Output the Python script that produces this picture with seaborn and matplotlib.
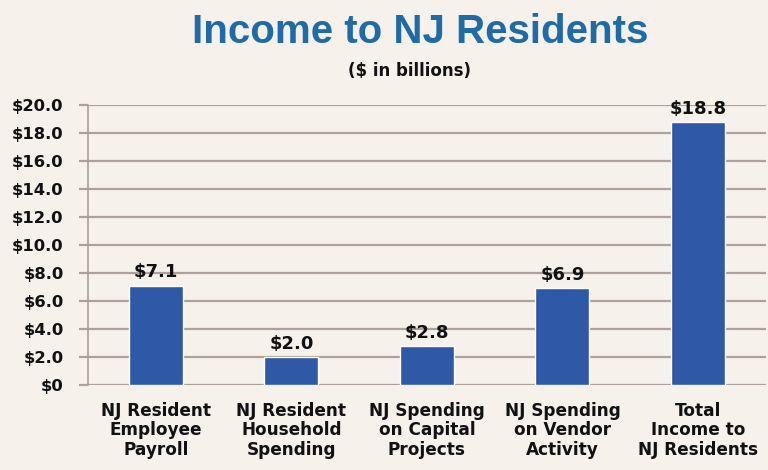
import matplotlib
matplotlib.use("Agg")
import matplotlib.pyplot as plt
import seaborn as sns
import pandas as pd

categories = ["NJ Resident\nEmployee\nPayroll", "NJ Resident\nHousehold\nSpending",
              "NJ Spending\non Capital\nProjects", "NJ Spending\non Vendor\nActivity",
              "Total\nIncome to\nNJ Residents"]
values = [7.1, 2.0, 2.8, 6.9, 18.8]
yticks = [0, 2, 4, 6, 8, 10, 12, 14, 16, 18, 20]
ytick_labels = ["$0", "$2.0", "$4.0", "$6.0", "$8.0", "$10.0", "$12.0", "$14.0", "$16.0", "$18.0", "$20.0"]

bg = "#f7f1ec"
sns.set_theme(style="white")
plt.rcParams['font.family'] = ['DejaVu Sans']

fig = plt.figure(figsize=(7.68, 4.70), dpi=100, facecolor=bg)
ax = fig.add_axes([0.1146, 0.181, 0.8824, 0.5957])
ax.set_facecolor(bg)

df = pd.DataFrame({"category": categories, "value": values})
sns.barplot(data=df, x="category", y="value", ax=ax, color="#2f58a6",
            width=0.4, saturation=1, zorder=3)

ax.set_ylim(0, 20)
ax.set_xlim(-0.5, 4.5)
ax.set_yticks(yticks)
ax.set_yticklabels(ytick_labels, fontsize=11.8, fontweight="bold", color="#111111")
ax.set_xticks(range(len(categories)))
ax.set_xticklabels(categories, fontsize=12.2, fontweight="bold", color="#111111", linespacing=1.12)
ax.set_xlabel("")
ax.set_ylabel("")
ax.yaxis.grid(True, color="#ada199", linewidth=1.6, zorder=0)
ax.set_axisbelow(True)
for s in ["top", "right", "bottom"]:
    ax.spines[s].set_visible(False)
ax.spines["left"].set_color("#ada199")
ax.spines["left"].set_linewidth(1.2)
ax.tick_params(axis="y", length=6.5, color="#ada199", width=1.6, pad=11, left=True)
ax.tick_params(axis="x", length=0, pad=12)

for c in ax.containers:
    ax.bar_label(c, labels=[f"${v:.1f}" for v in values], padding=3,
                 fontsize=13, fontweight="bold", color="#111111")

fig.text(0.547, 0.931, "Income to NJ Residents", ha="center", va="center",
         fontsize=29, fontweight="bold", color="#1f6ba8", family="Liberation Sans")
fig.text(0.533, 0.849, "($ in billions)", ha="center", va="center",
         fontsize=12, fontweight="bold", color="#111111")

fig.savefig("out.png", dpi=100, facecolor=bg)
